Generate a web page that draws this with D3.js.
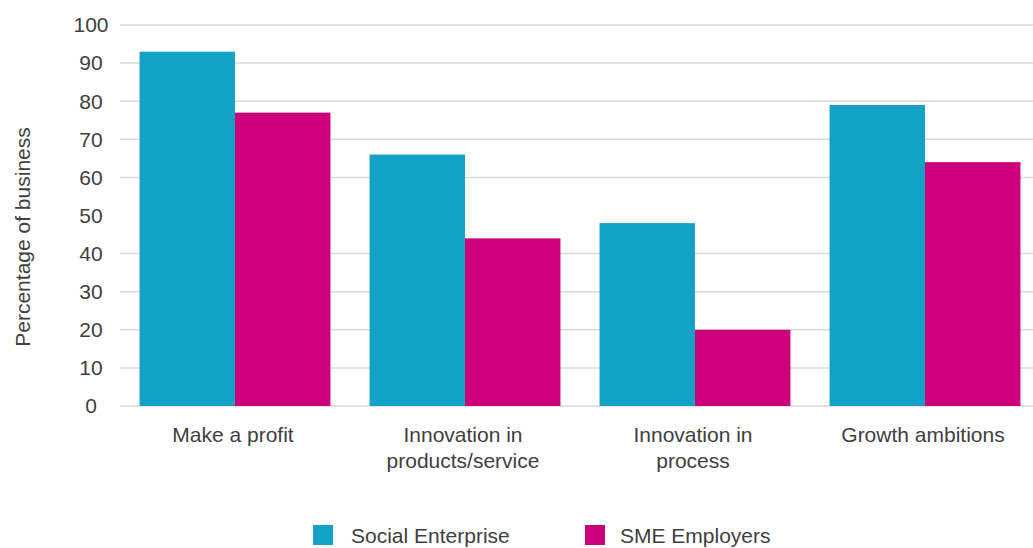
<!DOCTYPE html>
<html>
<head>
<meta charset="utf-8">
<script src="https://cdn.jsdelivr.net/npm/d3@7"></script>
<style>
  body { margin: 0; background: #fff; }
  text { font-family: "Liberation Sans", Arial, sans-serif; fill: #404040; }
</style>
</head>
<body>
<div id="chart"></div>
<script>
var categories = [["Make a profit"], ["Innovation in", "products/service"], ["Innovation in", "process"], ["Growth ambitions"]];
var series = ["Social Enterprise", "SME Employers"];
var socialEnterprise = [93, 66, 48, 79];
var smeEmployers = [77, 44, 20, 64];
var yTicks = [0, 10, 20, 30, 40, 50, 60, 70, 80, 90, 100];
var gridTicks = [0, 10, 20, 30, 40, 60, 70, 80, 90, 100];
var colors = ["#14a1c7", "#cc007a"];

var W = 1033, H = 548;
var svg = d3.select("#chart").append("svg")
    .attr("width", W)
    .attr("height", H);

var x = d3.scaleBand()
    .domain(d3.range(categories.length))
    .range([120, 1040])
    .paddingInner(0.17)
    .paddingOuter(0.085);

var xs = d3.scaleBand()
    .domain(series)
    .range([0, x.bandwidth()]);

var y = d3.scaleLinear()
    .domain([0, 100])
    .range([406, 25]);

// gridlines (the reference has none at 50)
svg.append("g")
  .selectAll("line")
  .data(gridTicks)
  .join("line")
    .attr("x1", 120)
    .attr("x2", W)
    .attr("y1", d => y(d))
    .attr("y2", d => y(d))
    .attr("stroke", "#d9d9d9")
    .attr("stroke-width", 1.5);

// y tick labels
svg.append("g")
  .selectAll("text")
  .data(yTicks)
  .join("text")
    .attr("x", 91)
    .attr("y", d => y(d))
    .attr("dy", "0.35em")
    .attr("text-anchor", "middle")
    .style("font-size", "21px")
    .text(d => d);

svg.append("text")
    .attr("transform", "translate(30," + 237 + ") rotate(-90)")
    .attr("text-anchor", "middle")
    .style("font-size", "21px")
    .text("Percentage of business");

// bars
var rows = categories.map(function(c, i) {
  return [socialEnterprise[i], smeEmployers[i]];
});

var groups = svg.append("g")
  .selectAll("g")
  .data(rows)
  .join("g")
    .attr("transform", (d, i) => "translate(" + x(i) + ",0)");

groups.selectAll("rect")
  .data(d => d.map((v, k) => ({key: series[k], value: v, k: k})))
  .join("rect")
    .attr("x", d => xs(d.key))
    .attr("width", xs.bandwidth())
    .attr("y", d => y(d.value))
    .attr("height", d => y(0) - y(d.value))
    .attr("fill", d => colors[d.k]);

// category labels
var labels = svg.append("g")
  .selectAll("text")
  .data(categories)
  .join("text")
    .attr("x", (d, i) => x(i) + x.bandwidth() / 2 - 2)
    .attr("y", 442)
    .attr("text-anchor", "middle")
    .style("font-size", "21px");

labels.selectAll("tspan")
  .data(d => d)
  .join("tspan")
    .attr("x", function() { return d3.select(this.parentNode).attr("x"); })
    .attr("dy", (d, i) => i === 0 ? 0 : 26)
    .text(d => d);

// legend
var legendX = [313, 585];
var legend = svg.append("g")
  .selectAll("g")
  .data(series)
  .join("g")
    .attr("transform", (d, i) => "translate(" + legendX[i] + ",525)");

legend.append("rect")
    .attr("width", 20)
    .attr("height", 20)
    .attr("fill", (d, i) => colors[i]);

legend.append("text")
    .attr("x", (d, i) => i === 0 ? 38 : 35)
    .attr("y", 18)
    .style("font-size", "21px")
    .text(d => d);
</script>
</body>
</html>
